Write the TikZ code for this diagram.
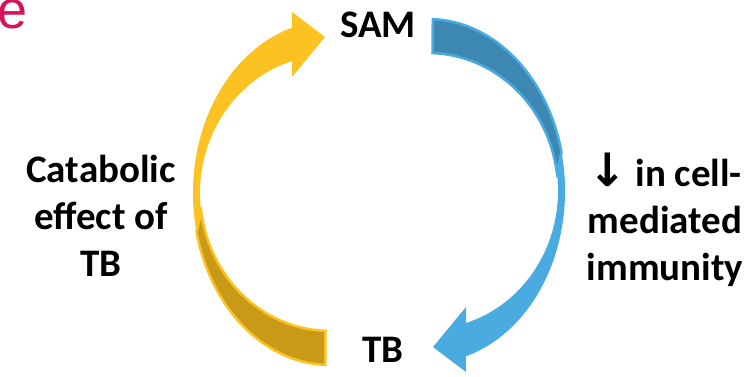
\documentclass[tikz,border=0pt]{standalone}
\usepackage{fontspec}
\setmainfont{Carlito}
\newfontfamily\arrowfont{DejaVu Sans}
\newfontfamily\logofont{Liberation Sans}
\definecolor{yellowA}{HTML}{FBC221}
\definecolor{yellowD}{HTML}{C99A17}
\definecolor{blueA}{HTML}{4AABE1}
\definecolor{blueD}{HTML}{3D87B3}
\definecolor{logored}{HTML}{D4145A}
\begin{document}
\begin{tikzpicture}[x=1pt,y=1pt,lbl/.style={font=\bfseries\fontsize{39}{47}\selectfont,inner sep=0pt,align=center}]
\useasboundingbox (0,0) rectangle (755,376);
\clip (0,0) rectangle (755,376);
\node [text=logored,font=\logofont\fontsize{54}{60}\selectfont,anchor=base west,inner sep=0pt] (logo) at (-3,348) {e};
\fill [yellowA] (325.2,11.1) arc[start angle=268,end angle=106,x radius=137,y radius=172] -- (292,364) -- (325,339) -- (292,299) -- (292,315) arc[start angle=107,end angle=268,x radius=130,y radius=138] -- cycle;
\filldraw [fill=yellowD,draw=yellowA,line width=2.5pt] (196.5,144.3) arc[start angle=193,end angle=268,x radius=137,y radius=172] -- (325.5,45.1) arc[start angle=268,end angle=188,x radius=130,y radius=138] -- cycle;
\begin{scope}[rotate around={180:(379,184)}]
\fill [blueA] (325.2,11.1) arc[start angle=268,end angle=106,x radius=137,y radius=172] -- (292,364) -- (325,339) -- (292,299) -- (292,315) arc[start angle=107,end angle=268,x radius=130,y radius=138] -- cycle;
\filldraw [fill=blueD,draw=blueA,line width=2.5pt] (196.5,144.3) arc[start angle=193,end angle=268,x radius=137,y radius=172] -- (325.5,45.1) arc[start angle=268,end angle=188,x radius=130,y radius=138] -- cycle;
\end{scope}
\node [lbl] (sam) at (378,351) {SAM};
\node [lbl] (tb) at (383,26) {TB};
\node [lbl,anchor=north] (catabolic) at (101,221) {Catabolic\\effect of\\TB};
\node [lbl,anchor=north] (cmi) at (665,223) {{\arrowfont\bfseries\fontsize{46}{47}\selectfont ↓} in cell-\\mediated\\immunity};
\end{tikzpicture}
\end{document}
